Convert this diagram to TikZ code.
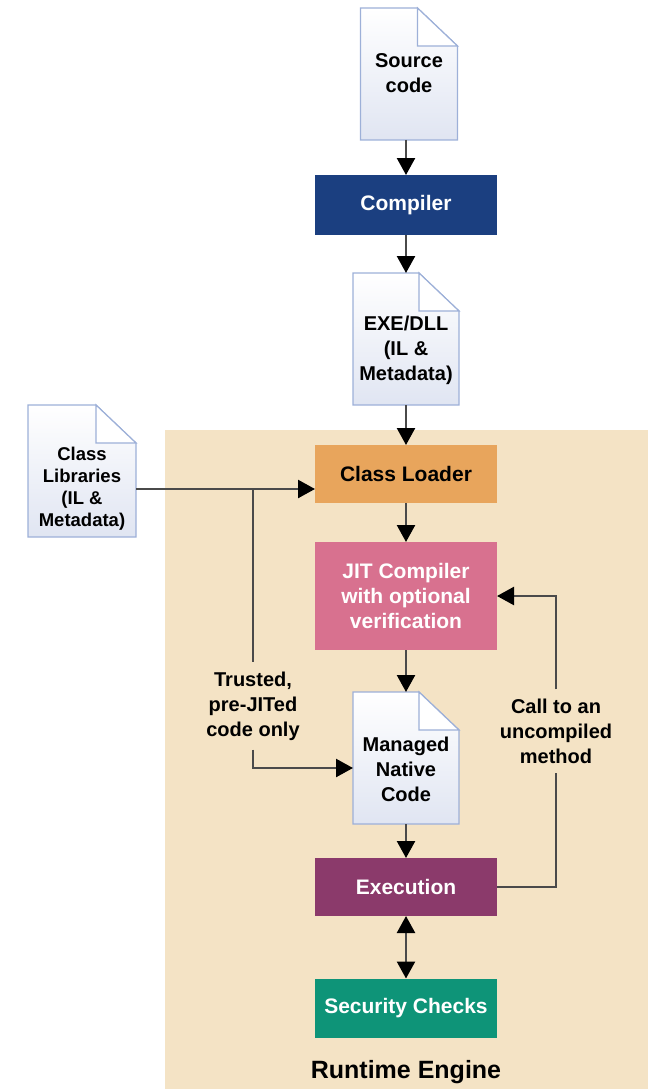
\documentclass[tikz,border=0pt]{standalone}
\usepackage{fontspec}
\setmainfont{Liberation Sans}
\usepackage{xcolor}
\usetikzlibrary{arrows.meta}
\definecolor{engine_bg}{HTML}{F4E3C5}
\definecolor{compiler_blue}{HTML}{1B3F80}
\definecolor{loader_orange}{HTML}{E8A55C}
\definecolor{jit_pink}{HTML}{D8718F}
\definecolor{exec_purple}{HTML}{8B3A6B}
\definecolor{check_green}{HTML}{0E9478}
\definecolor{doc_edge}{HTML}{9DB0D8}
\definecolor{doc_shade}{HTML}{E0E5F2}
\definecolor{flow_gray}{HTML}{4A4A4A}

% folded-corner page drawn round an empty node
\newcommand{\docshape}[1]{%
  \draw[doc_edge, line width=1.2pt, top color=white, middle color=white, bottom color=doc_shade]
    (#1.north west) -- ([xshift=-40pt]#1.north east) -- ([yshift=-38pt]#1.north east)
    -- (#1.south east) -- (#1.south west) -- cycle;
  \draw[doc_edge, line width=1.2pt, fill=white]
    ([xshift=-40pt]#1.north east) |- ([yshift=-38pt]#1.north east) -- cycle;
}

\begin{document}
\begin{tikzpicture}[x=1pt, y=-1pt,
    every node/.style={font=\bfseries\fontsize{21}{25}\selectfont},
    box/.style={rectangle, minimum width=182pt, inner sep=0pt, outer sep=0pt, align=center},
    doc/.style={rectangle, inner sep=0pt, outer sep=0pt, minimum width=106pt, minimum height=132pt},
    doctext/.style={align=center, font=\bfseries\fontsize{20}{25}\selectfont},
    note/.style={align=center, inner sep=9pt, font=\bfseries\fontsize{20}{25}\selectfont},
    link/.style={draw=flow_gray, line width=2.4pt},
    flow/.style={link, -{Triangle[width=18pt,length=17pt,black]}},
    twoway/.style={link, {Triangle[width=18pt,length=17pt,black]}-{Triangle[width=18pt,length=17pt,black]}}]

    \useasboundingbox (0,0) rectangle (648,1089);

    % Draw the runtime engine area
    \fill[engine_bg] (165,430) rectangle (648,1089);

    % Pages
    \node[doc, minimum width=97pt] (src) at (409,74) {};
    \node[doc] (exe) at (406,339) {};
    \node[doc] (native) at (406,758) {};
    \node[doc, minimum width=108pt] (classlib) at (82,471) {};
    \docshape{src}
    \docshape{exe}
    \docshape{native}
    \docshape{classlib}
    \node[doctext] (srctxt) at ([yshift=1pt]src.center) {Source\\code};
    \node[doctext] (exetxt) at ([yshift=-11pt]exe.center) {EXE/DLL\\(IL \&\\Metadata)};
    \node[doctext] (nativetxt) at ([yshift=-11pt]native.center) {Managed\\Native\\Code};
    \node[doctext, font=\bfseries\fontsize{18.5}{22}\selectfont] (classtxt) at ([yshift=-18pt]classlib.center) {Class\\Libraries\\(IL \&\\Metadata)};

    % Boxes
    \node[box, minimum height=60pt, fill=compiler_blue, text=white] (comp) at (406,205) {Compiler};
    \node[box, minimum height=58pt, fill=loader_orange] (loader) at (406,474) {Class Loader};
    \node[box, minimum height=108pt, fill=jit_pink, text=white] (jit) at (406,596) {JIT Compiler\\with optional\\verification};
    \node[box, minimum height=58pt, fill=exec_purple, text=white] (run) at (406,887) {Execution};
    \node[box, minimum height=59pt, fill=check_green, text=white] (sec) at (406,1008) {Security Checks};

    % Side notes
    \node[note] (trusted) at (253,706) {Trusted,\\pre-JITed\\code only};
    \node[note] (uncomp) at (556,731) {Call to an\\uncompiled\\method};
    \node[font=\bfseries\fontsize{25}{30}\selectfont] (engine) at (406,1072) {Runtime Engine};

    % Main flow
    \draw[flow] (src.south -| comp.north) -- (comp.north);
    \draw[flow] (comp.south) -- (exe.north);
    \draw[flow] (exe.south) -- (loader.north);
    \draw[flow] (loader.south) -- (jit.north);
    \draw[flow] (jit.south) -- (native.north);
    \draw[flow] (native.south) -- (run.north);
    \draw[twoway] (run.south) -- (sec.north);

    % Class libraries feed and pre-JITed branch
    \coordinate (feed) at ([yshift=-15pt]loader.west);
    \draw[flow] (classlib.east |- feed) -- (feed);
    \draw[link] (trusted.north |- feed) -- (trusted.north);
    \draw[flow] (trusted.south) |- ([yshift=-10pt]native.west);

    % Back to the JIT compiler
    \draw[link] (run.east) -| (uncomp.south);
    \draw[flow] (uncomp.north) |- (jit.east);

\end{tikzpicture}
\end{document}
